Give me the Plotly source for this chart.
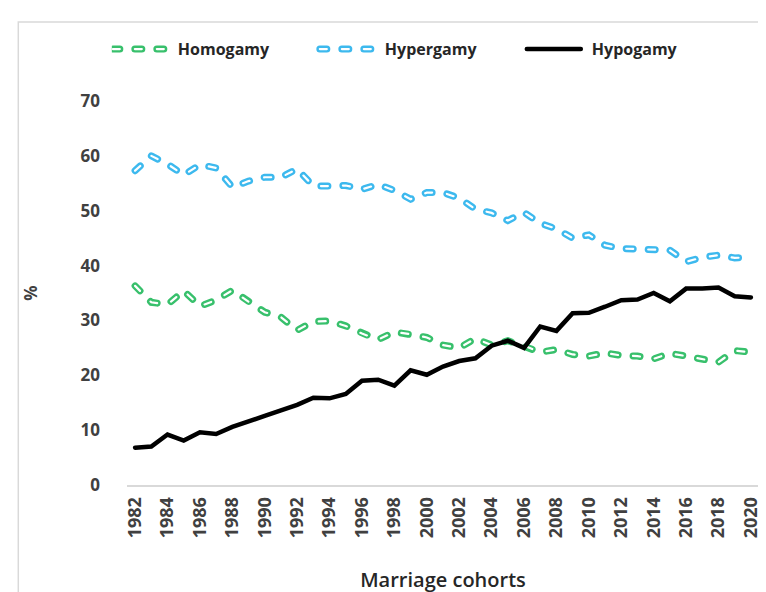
import plotly.graph_objects as go

years = list(range(1982, 2021))
tick_years = list(range(1982, 2021, 2))
tick_labels = [str(y) for y in tick_years]
y_ticks = [0, 10, 20, 30, 40, 50, 60, 70]

homogamy = [36.3, 33.3, 32.9, 35.4, 32.6, 33.7, 35.5, 33.4, 31.5, 30.6, 28.2, 29.8,
            29.9, 29.0, 27.6, 26.5, 27.9, 27.5, 26.9, 25.5, 25.0, 26.7, 25.5, 26.3,
            25.4, 24.2, 24.7, 23.8, 23.5, 24.1, 23.6, 23.5, 23.0, 24.0, 23.5, 23.0,
            22.4, 24.5, 24.2]
hypergamy = [57.3, 60.0, 58.5, 56.5, 58.4, 57.8, 54.3, 55.4, 56.1, 56.1, 57.6, 54.5,
             54.5, 54.6, 53.9, 54.8, 53.7, 52.1, 53.3, 53.3, 52.3, 50.3, 49.6, 48.2,
             49.7, 47.7, 46.7, 45.0, 45.6, 43.7, 43.1, 43.0, 42.8, 42.8, 40.7, 41.5,
             41.9, 41.4, 41.5]
hypogamy = [6.8, 7.0, 9.2, 8.1, 9.6, 9.3, 10.6, 11.7, 12.6, 13.6, 14.6, 15.9,
            15.8, 16.6, 19.0, 19.2, 18.1, 20.9, 20.1, 21.6, 22.6, 23.1, 25.4, 26.3,
            25.0, 28.9, 28.1, 31.3, 31.4, 32.5, 33.7, 33.8, 35.0, 33.5, 35.8, 35.8,
            36.0, 34.4, 34.2]

GREEN = "#38C06C"
BLUE = "#3DB9EE"
TEXT = "#404040"
FONT = "Open Sans"
DASH = "7px,15px"

fig = go.Figure()

def compound(name, y, color):
    fig.add_trace(go.Scatter(x=years, y=y, name=name, mode="lines",
                             line=dict(color=color, width=7, dash=DASH),
                             legendgroup=name))
    fig.add_trace(go.Scatter(x=years, y=y, name=name, mode="lines", showlegend=False,
                             hoverinfo="skip",
                             line=dict(color="white", width=2.2, dash=DASH),
                             legendgroup=name))

compound("Homogamy", homogamy, GREEN)
compound("Hypergamy", hypergamy, BLUE)
fig.add_trace(go.Scatter(x=years, y=hypogamy, name="Hypogamy", mode="lines",
                         line=dict(color="black", width=4.5)))

fig.update_layout(
    width=766, height=592,
    margin=dict(l=119, r=13, t=93, b=115),
    paper_bgcolor="white", plot_bgcolor="white",
    font=dict(family=FONT, color=TEXT),
    showlegend=True,
    legend=dict(orientation="h", x=-0.024, xanchor="left", y=1.135, yanchor="middle",
                font=dict(family=FONT, size=16, color="#262626", weight="bold"),
                entrywidth=136, entrywidthmode="pixels", itemwidth=56,
                tracegroupgap=0),
    xaxis=dict(range=[1981.5, 2020.5], tickmode="array", tickvals=tick_years,
               ticktext=tick_labels, tickangle=-90, showgrid=False, zeroline=False,
               showline=True, linecolor="#d9d9d9", linewidth=2, ticks="",
               tickfont=dict(family=FONT, size=18, color=TEXT, weight="bold"),
               ticklabelstandoff=3,
               title=dict(text="Marriage cohorts", standoff=36,
                          font=dict(family=FONT, size=20, color="#262626", weight=600))),
    yaxis=dict(range=[0, 70], tickmode="array", tickvals=y_ticks, showgrid=False,
               zeroline=False, showline=False, ticks="",
               tickfont=dict(family=FONT, size=17, color=TEXT, weight="bold"),
               ticklabelstandoff=26,
               title=dict(text="%", standoff=38,
                          font=dict(family=FONT, size=17, color=TEXT, weight="bold"))),
    shapes=[dict(type="rect", xref="paper", yref="paper", x0=-0.172, x1=1.03,
                 y0=-0.33, y1=1.206, line=dict(color="#d9d9d9", width=1.5),
                 fillcolor="rgba(0,0,0,0)", layer="below")],
)

post = """
document.querySelectorAll('.js-line').forEach(function(p){p.style.strokeLinecap='round';});
document.querySelectorAll('.legend .traces').forEach(function(t){
  var p = t.querySelector('.js-line');
  if (!p) return;
  var s = p.style.strokeDasharray || p.getAttribute('stroke-dasharray') || '';
  p.setAttribute('d', 'M1,0h54');
  if (s && s !== 'none') {
    var c = p.cloneNode(true);
    c.style.stroke = 'white';
    c.style.strokeWidth = '2.2px';
    p.parentNode.appendChild(c);
  }
});
"""
fig.write_html("out.html", post_script=post)
